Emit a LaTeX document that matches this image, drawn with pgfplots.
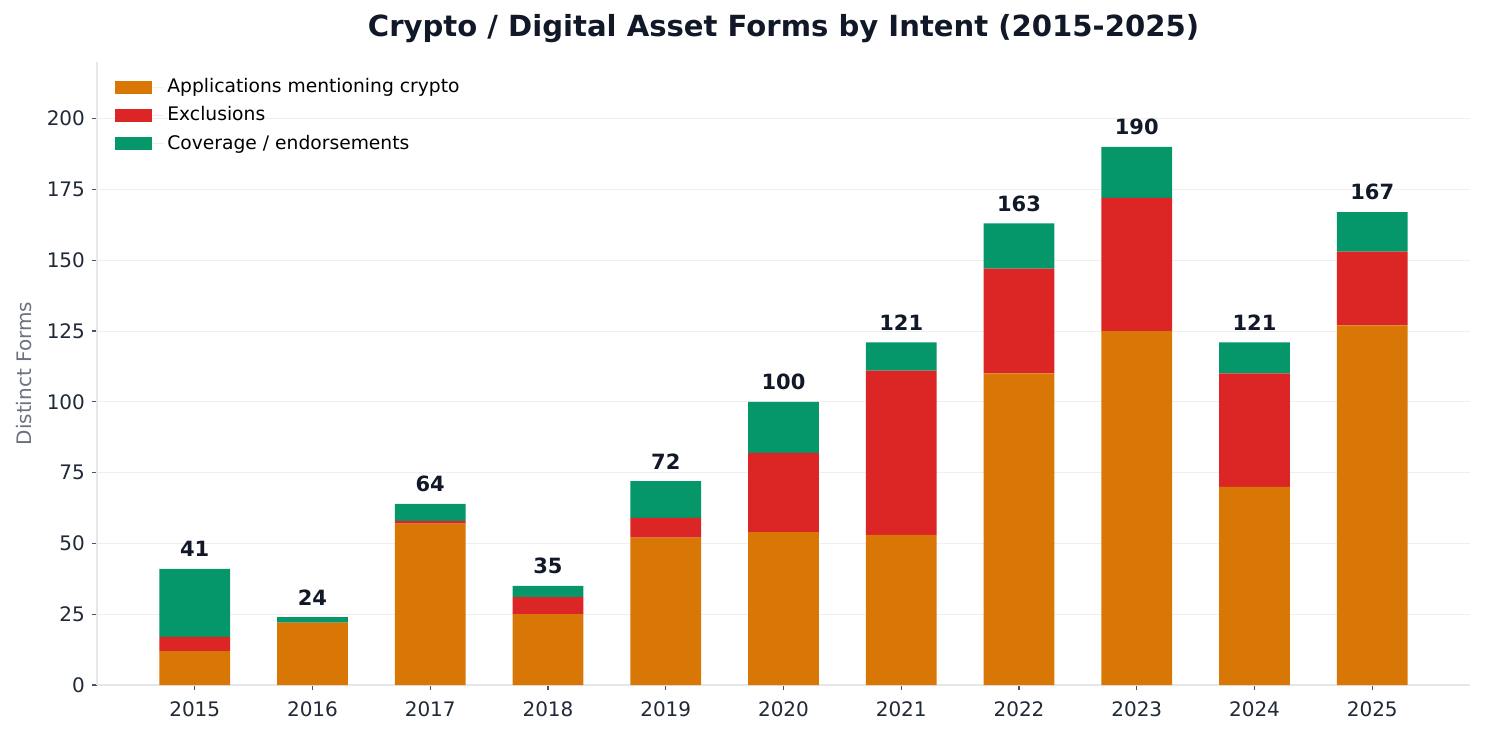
\documentclass[border=0pt]{standalone}
\usepackage{fontspec}
\setmainfont{DejaVu Sans}
\usepackage{pgfplots}
\usepackage{pgfplotstable}
\pgfplotsset{compat=1.18}

\definecolor{appc}{HTML}{D97706}
\definecolor{exclc}{HTML}{DC2626}
\definecolor{covc}{HTML}{059669}
\definecolor{titlec}{HTML}{111827}
\definecolor{tickc}{HTML}{1F2937}
\definecolor{labelc}{HTML}{6B7280}
\definecolor{spinec}{HTML}{E5E7EB}
\definecolor{gridc}{HTML}{EFEFEF}
\definecolor{tickmarkc}{HTML}{4B5563}

\pgfplotsset{
  swatch/.style={legend image code/.code={%
    \path[#1, draw=none] (0pt,-3.25pt) rectangle (18.5pt,3.25pt);
    \path (0pt,0pt) -- (24pt,0pt);}},
}

% forms per year, split by intent
\pgfplotstableread{
x year app excl cov total
0  2015 12   5  24  41
1  2016 22   0   2  24
2  2017 57   1   6  64
3  2018 25   6   4  35
4  2019 52   7  13  72
5  2020 54  28  18 100
6  2021 53  58  10 121
7  2022 110 37  16 163
8  2023 125 47  18 190
9  2024 70  40  11 121
10 2025 127 26  14 167
}\forms

\begin{document}
\begin{tikzpicture}
\path[use as bounding box] (-48.5pt,-25pt) rectangle (694pt,342.5pt);
\begin{axis}[
  scale only axis,
  width=686.5pt, height=311.5pt,
  at={(0,0)}, anchor=south west,
  ybar stacked,
  bar width=0.6,
  xmin=-0.83, xmax=10.83,
  ymin=0, ymax=220,
  xtick=data,
  xticklabels={2015,2016,2017,2018,2019,2020,2021,2022,2023,2024,2025},
  ytick={0,25,...,200},
  /pgf/number format/assume math mode=true,
  axis x line*=bottom, axis y line*=left,
  axis line style={draw=spinec, line width=0.8pt, -},
  tick align=outside,
  major tick length=2.5pt,
  tick style={draw=tickmarkc, line width=0.6pt},
  ymajorgrids,
  grid style={draw=gridc, line width=0.5pt},
  tick label style={font=\fontsize{10}{12}\selectfont, text=tickc},
  xticklabel style={yshift=-2.5pt},
  ylabel={Distinct Forms},
  every axis y label/.style={at={(axis description cs:0,0.5)}, rotate=90, anchor=center, yshift=36.5pt, font=\fontsize{10}{12}\selectfont, text=labelc},
  legend style={at={(axis description cs:0,1)}, anchor=north west, draw=none, fill=none,
    font=\fontsize{9.35}{11}\selectfont, text=black, xshift=6pt, yshift=-4pt,
    row sep=1.5pt},
  legend cell align=left,
]
\addplot[fill=appc, draw=none, swatch] table[x=x, y=app] {\forms};
\addlegendentry{Applications mentioning crypto}
\addplot[fill=exclc, draw=none, swatch] table[x=x, y=excl] {\forms};
\addlegendentry{Exclusions}
% totals sit above the stack: the label starts mid-segment, so lift it by half the segment
\addplot[fill=covc, draw=none, swatch, nodes near coords, point meta=explicit,
  visualization depends on={\thisrow{cov} \as \covh},
  every node near coord/.append style={font=\bfseries\fontsize{10.5}{12}\selectfont, text=titlec,
    inner sep=0pt, anchor=south, yshift={\covh*0.70795pt+5.75pt}}]
  table[x=x, y=cov, meta=total] {\forms};
\addlegendentry{Coverage / endorsements}
\end{axis}
\node[font=\bfseries\fontsize{14.55}{17}\selectfont, text=titlec] at (343.25pt,328pt) {Crypto / Digital Asset Forms by Intent (2015-2025)};
\end{tikzpicture}
\end{document}
